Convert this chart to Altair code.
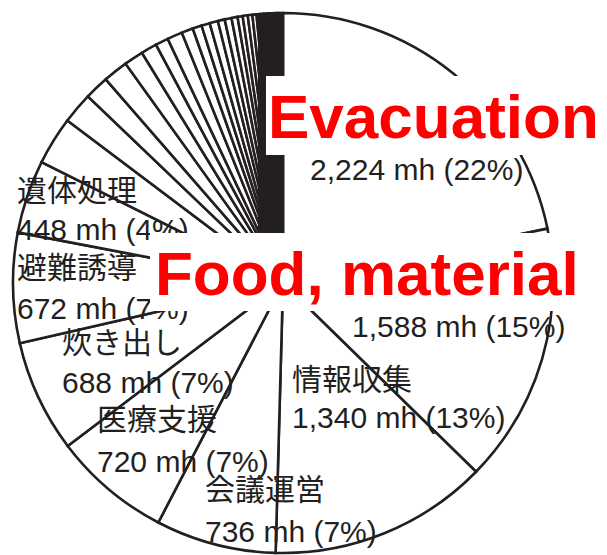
import altair as alt
import pandas as pd

# ---- data ----
main_cats = ["Evacuation", "Food, material", "情報収集", "会議運営", "医療支援", "炊き出し", "避難誘導", "遺体処理"]
main_vals = [2224, 1588, 1340, 736, 720, 688, 672, 448]
main_pcts = [22, 15, 13, 7, 7, 7, 7, 4]
minor_vals = [295, 191, 149, 152, 118, 98, 79, 93, 70, 56, 51, 51, 42, 42, 37, 31, 31, 28, 25]
tiny_vals = [20, 20, 20, 20, 20, 20, 20, 20]

INK = "#231f20"
FONT = "Liberation Sans, Arial, Noto Sans CJK JP"

rows = []
i = 0
for c, v in zip(main_cats, main_vals):
    rows.append({"idx": i, "cat": c, "value": v, "fill": "white"}); i += 1
for k, v in enumerate(minor_vals):
    rows.append({"idx": i, "cat": f"other{k}", "value": v, "fill": "white"}); i += 1
for k, v in enumerate(tiny_vals):
    rows.append({"idx": i, "cat": f"tiny{k}", "value": v, "fill": INK}); i += 1
df = pd.DataFrame(rows)

pie = alt.Chart(df).mark_arc(outerRadius=270, stroke=INK, strokeWidth=2.6).encode(
    theta=alt.Theta("value:Q", stack=True),
    order=alt.Order("idx:Q"),
    fill=alt.Fill("fill:N", scale=None),
    x=alt.value(283),
    y=alt.value(283),
)

# hand-placed label anchors (left aligned, alphabetic baseline)
name_pos = {
    "情報収集": (292, 390),
    "会議運営": (205, 500),
    "医療支援": (97, 430),
    "炊き出し": (62, 353),
    "避難誘導": (17, 278),
    "遺体処理": (17, 201),
}
value_pos = {
    "Evacuation": (310, 180),
    "Food, material": (352, 337),
    "情報収集": (292, 428),
    "会議運営": (205, 542),
    "医療支援": (97, 472),
    "炊き出し": (62, 393),
    "避難誘導": (17, 319),
    "遺体処理": (17, 240),
}


def text_layer(t, x, y, size=30, color=INK, weight="normal"):
    return alt.Chart(pd.DataFrame({"t": [t]})).mark_text(
        align="left", baseline="alphabetic", fontSize=size, font=FONT,
        color=color, fontWeight=weight
    ).encode(x=alt.value(x), y=alt.value(y), text="t:N")


def box(x1, x2, y1, y2, color="white"):
    return alt.Chart(pd.DataFrame({"a": [0]})).mark_rect(color=color).encode(
        x=alt.value(x1), x2=alt.value(x2), y=alt.value(y1), y2=alt.value(y2)
    )


layers = [pie, box(258, 284, 14, 233, color=INK)]
for c, v, p in zip(main_cats, main_vals, main_pcts):
    if c in name_pos:
        layers.append(text_layer(c, *name_pos[c]))
    layers.append(text_layer(f"{v:,} mh ({p}%)", *value_pos[c]))

layers.append(box(266, 607, 76, 155))
layers.append(box(150, 598, 233, 311))
layers.append(text_layer(main_cats[0], 268, 138, size=62, color="#ff0000", weight="bold"))
layers.append(text_layer(main_cats[1], 155, 295, size=62, color="#ff0000", weight="bold"))

chart = alt.layer(*layers).properties(
    width=607, height=555, padding=0, autosize=alt.AutoSizeParams(type="none"),
    background="white"
).configure_view(stroke=None)

chart.save("out.html", embed_options={"renderer": "svg", "actions": False})
